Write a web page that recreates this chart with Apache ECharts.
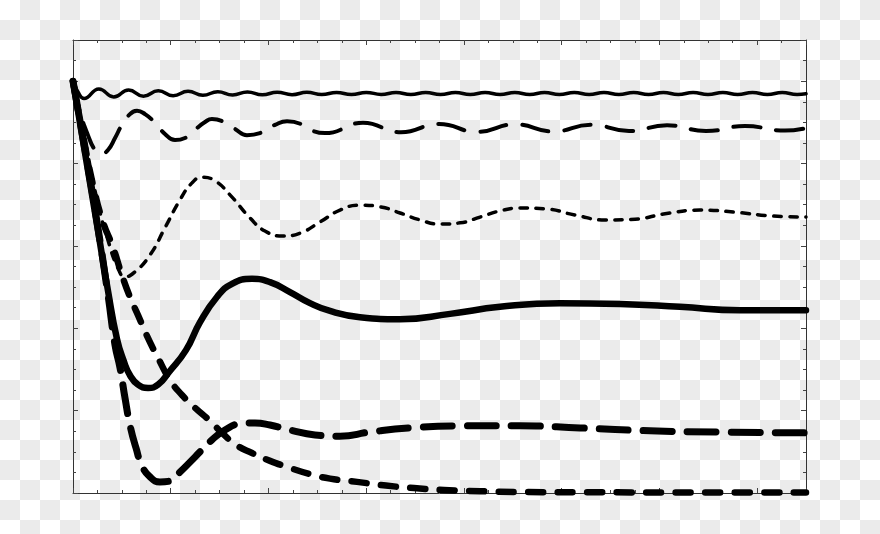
<!DOCTYPE html>
<html>
<head>
<meta charset="utf-8">
<script src="https://cdn.jsdelivr.net/npm/echarts/dist/echarts.min.js"></script>
<style>
  html, body { margin: 0; padding: 0; }
  body {
    width: 880px; height: 534px; overflow: hidden;
    background-color: #ffffff;
    background-image: conic-gradient(#ebebeb 0 25%, transparent 0 50%, #ebebeb 0 75%, transparent 0);
    background-size: 40px 40px;
  }
  #chart { width: 880px; height: 534px; }
</style>
</head>
<body>
<div id="chart"></div>
<script>
// Axis ranges (no tick labels shown in the reference)
const xRange = [0, 7.5];
const yRange = [0, 1.1];

// Thin solid line: fast, slowly decaying oscillation near 0.97
const thinSolid = [
  [0, 1.000], [0.051, 0.974], [0.113, 0.958],
  [0.265, 0.9811], [0.417, 0.9616], [0.569, 0.9786], [0.721, 0.9636],
  [0.873, 0.9767], [1.025, 0.9648], [1.177, 0.9755], [1.329, 0.9658],
  [1.481, 0.9745], [1.633, 0.9665], [1.785, 0.9738], [1.937, 0.9670],
  [2.089, 0.9733], [2.241, 0.9672], [2.393, 0.9731], [2.545, 0.9675],
  [2.697, 0.9728], [2.849, 0.9675], [3.001, 0.9728], [3.153, 0.9677],
  [3.305, 0.9726], [3.457, 0.9677], [3.609, 0.9726], [3.761, 0.9677],
  [3.913, 0.9726], [4.065, 0.9677], [4.217, 0.9726], [4.369, 0.9677],
  [4.521, 0.9726], [4.673, 0.9677], [4.825, 0.9726], [4.977, 0.9677],
  [5.129, 0.9726], [5.281, 0.9677], [5.433, 0.9726], [5.585, 0.9677],
  [5.737, 0.9726], [5.889, 0.9677], [6.041, 0.9726], [6.193, 0.9677],
  [6.345, 0.9726], [6.497, 0.9677], [6.649, 0.9726], [6.801, 0.9677],
  [6.953, 0.9726], [7.105, 0.9677], [7.257, 0.9726], [7.409, 0.9677],
  [7.5, 0.9695]
];

// Medium long-dash line: oscillation near 0.885
const longDash = [
  [0, 1.000], [0.072, 0.925], [0.153, 0.869], [0.225, 0.833], [0.287, 0.823],
  [0.358, 0.833], [0.430, 0.862], [0.501, 0.894], [0.583, 0.920], [0.655, 0.928],
  [0.737, 0.920], [0.839, 0.899], [0.941, 0.872], [1.044, 0.857], [1.146, 0.862],
  [1.248, 0.882], [1.351, 0.901], [1.422, 0.908], [1.525, 0.903], [1.658, 0.884],
  [1.780, 0.869], [1.913, 0.874], [2.067, 0.894], [2.190, 0.903], [2.579, 0.874],
  [2.967, 0.899], [3.356, 0.876], [3.745, 0.896], [4.134, 0.877], [4.523, 0.895],
  [4.911, 0.878], [5.300, 0.894], [5.689, 0.879], [6.078, 0.893], [6.477, 0.879],
  [6.876, 0.891], [7.285, 0.880], [7.5, 0.886]
];

// Thin short-dash line: settles near 0.68
const shortDash = [
  [0, 1.000], [0.123, 0.857], [0.246, 0.712], [0.358, 0.614], [0.460, 0.546],
  [0.532, 0.525], [0.634, 0.537], [0.788, 0.578], [0.941, 0.644], [1.095, 0.712],
  [1.218, 0.753], [1.320, 0.767], [1.453, 0.758], [1.606, 0.724], [1.811, 0.668],
  [1.965, 0.636], [2.149, 0.624], [2.323, 0.631], [2.527, 0.658], [2.732, 0.687],
  [2.937, 0.699], [3.141, 0.695], [3.346, 0.680], [3.551, 0.663], [3.755, 0.653],
  [3.960, 0.656], [4.165, 0.670], [4.369, 0.685], [4.574, 0.692], [4.830, 0.690],
  [5.137, 0.675], [5.444, 0.663], [5.751, 0.665], [6.058, 0.678], [6.416, 0.687],
  [6.774, 0.682], [7.132, 0.673], [7.5, 0.670]
];

// Thick solid line: settles near 0.45
const thickSolid = [
  [0, 1.000], [0.123, 0.826], [0.246, 0.651], [0.358, 0.491], [0.450, 0.374],
  [0.520, 0.320], [0.583, 0.286], [0.665, 0.263], [0.768, 0.255], [0.870, 0.263],
  [0.983, 0.294], [1.156, 0.347], [1.300, 0.415], [1.473, 0.476], [1.627, 0.508],
  [1.832, 0.520], [2.016, 0.512], [2.220, 0.488], [2.425, 0.461], [2.630, 0.442],
  [2.937, 0.427], [3.346, 0.422], [3.858, 0.435], [4.369, 0.452], [4.983, 0.461],
  [5.597, 0.459], [6.211, 0.452], [6.825, 0.444], [7.5, 0.444]
];

// Thick long-dash line: dips near zero, settles near 0.15
const thickLongDash = [
  [0, 1.000], [0.123, 0.833], [0.246, 0.658], [0.358, 0.481], [0.430, 0.359],
  [0.481, 0.304], [0.532, 0.231], [0.583, 0.165], [0.645, 0.109], [0.706, 0.066],
  [0.788, 0.039], [0.890, 0.027], [0.993, 0.029], [1.095, 0.051], [1.197, 0.075],
  [1.300, 0.100], [1.422, 0.129], [1.555, 0.153], [1.709, 0.168], [1.862, 0.170],
  [2.016, 0.165], [2.220, 0.153], [2.476, 0.141], [2.732, 0.138], [3.039, 0.148],
  [3.448, 0.158], [3.960, 0.163], [4.574, 0.163], [5.188, 0.158], [5.904, 0.151],
  [6.620, 0.148], [7.5, 0.146]
];

// Thick short-dash line: monotone decay to zero
const thickShortDash = [
  [0, 1.000], [0.102, 0.869], [0.205, 0.748], [0.307, 0.658], [0.409, 0.597],
  [0.501, 0.529], [0.583, 0.476], [0.665, 0.432], [0.768, 0.376], [0.870, 0.328],
  [0.993, 0.274], [1.115, 0.238], [1.248, 0.207], [1.402, 0.175], [1.525, 0.146],
  [1.668, 0.117], [1.832, 0.097], [2.016, 0.078], [2.220, 0.061], [2.425, 0.046],
  [2.630, 0.035], [2.906, 0.027], [3.202, 0.018], [3.489, 0.012], [3.796, 0.0073],
  [4.165, 0.0044], [4.574, 0.0024], [5.392, 0.0017], [6.416, 0.0012], [7.5, 0.0012]
];

const frameColor = '#333';
function ax(range, position, interval, len, showLine) {
  return {
    type: 'value', min: range[0], max: range[1], interval: interval, position: position,
    axisLine: { show: showLine, onZero: false, lineStyle: { color: frameColor, width: 1 } },
    axisTick: { show: true, inside: true, length: len, lineStyle: { color: '#444', width: 1 } },
    axisLabel: { show: false }, splitLine: { show: false }
  };
}
function line(data, width, dash) {
  return {
    type: 'line', data: data, xAxisIndex: 0, yAxisIndex: 0,
    smooth: 0.5, symbol: 'none', clip: true,
    lineStyle: { color: '#000', width: width, type: dash || 'solid', cap: 'round', join: 'round' }
  };
}

const chart = echarts.init(document.getElementById('chart'), null, { renderer: 'canvas' });
chart.setOption({
  backgroundColor: 'transparent',
  animation: false,
  grid: { left: 73, right: 74, top: 40, bottom: 41, containLabel: false },
  xAxis: [
    ax(xRange, 'bottom', 0.25, 3, true), ax(xRange, 'bottom', 1, 5, false),
    ax(xRange, 'top', 0.25, 3, true), ax(xRange, 'top', 1, 5, false)
  ],
  yAxis: [
    ax(yRange, 'left', 0.05, 3, true), ax(yRange, 'left', 0.2, 5, false),
    ax(yRange, 'right', 0.05, 3, true), ax(yRange, 'right', 0.2, 5, false)
  ],
  series: [
    line(thinSolid, 3.5),
    line(longDash, 4, [27, 16]),
    line(shortDash, 3.5, [7.5, 8.5]),
    line(thickSolid, 6.5),
    line(thickLongDash, 7, [29, 15]),
    line(thickShortDash, 6.5, [15, 14.5])
  ]
});
</script>
</body>
</html>
